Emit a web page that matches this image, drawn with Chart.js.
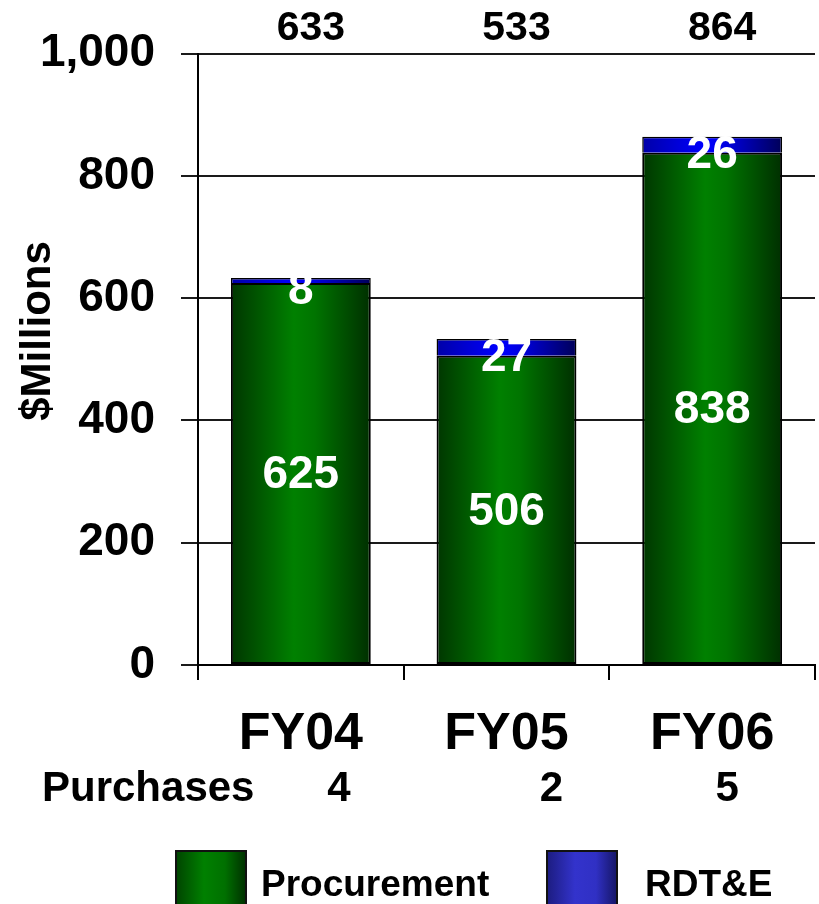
<!DOCTYPE html>
<html>
<head>
<meta charset="utf-8">
<title>Procurement and RDT&amp;E</title>
<script src="https://cdn.jsdelivr.net/npm/chart.js@4.4.1/dist/chart.umd.min.js"></script>
<style>
  html, body { margin: 0; padding: 0; background: #fff; overflow: hidden; }
  canvas { display: block; }
</style>
</head>
<body>
<canvas id="chart" width="819" height="904"></canvas>
<script>
// Funding by fiscal year, $ millions
const categories = ['FY04', 'FY05', 'FY06'];
const procurement = [625, 506, 838];
const rdte = [8, 27, 26];
const totals = [633, 533, 864];
const purchases = [4, 2, 5];
const yTickValues = [0, 200, 400, 600, 800, 1000];

const FONT = '"Liberation Sans", Arial, Helvetica, sans-serif';
const BAR_PCT = 0.68;

// horizontal "cylinder" shading used on every bar segment
const greenStops = [[0, '#003600'], [0.45, '#008000'], [0.6, '#007400'], [1, '#002f00']];
const blueStops = [[0, '#0000a8'], [0.45, '#0000ff'], [0.6, '#0000e0'], [1, '#000058']];

function fillStops(grad, stops) {
  stops.forEach(s => grad.addColorStop(s[0], s[1]));
  return grad;
}

function barGradient(stops, flat) {
  return function (ctx) {
    const chart = ctx.chart;
    const xs = chart.scales.x;
    if (!chart.chartArea || !xs || ctx.dataIndex === undefined) return flat;
    const cx = xs.getPixelForValue(ctx.dataIndex);
    const half = (xs.width / categories.length) * BAR_PCT / 2;
    const g = chart.ctx.createLinearGradient(cx - half, 0, cx + half, 0);
    return fillStops(g, stops);
  };
}

// extra text: totals, segment values, purchases row, axis title, legend
const annotations = {
  id: 'annotations',
  afterDatasetsDraw(chart) {
    const c = chart.ctx;
    const green = chart.getDatasetMeta(0).data;
    const blue = chart.getDatasetMeta(1).data;
    c.save();
    c.textAlign = 'center';
    c.textBaseline = 'middle';
    c.fillStyle = '#fff';
    c.font = 'bold 46px ' + FONT;
    green.forEach((bar, i) => {
      c.fillText(String(procurement[i]), bar.x, (bar.y + bar.base) / 2 + 2);
    });
    blue.forEach((bar, i) => {
      c.fillText(String(rdte[i]), bar.x, (bar.y + bar.base) / 2 + 11);
    });
    c.restore();
  },
  afterDraw(chart) {
    const c = chart.ctx;
    const xs = chart.scales.x;
    c.save();
    c.fillStyle = '#000';
    c.textBaseline = 'middle';

    // stack totals above the plot
    c.textAlign = 'center';
    c.font = 'bold 41px ' + FONT;
    totals.forEach((t, i) => {
      c.fillText(String(t), xs.getPixelForValue(i) + 10, 29);
    });

    // purchases row under the category labels
    const purchaseShift = [38, 45, 15];
    c.font = 'bold 42px ' + FONT;
    c.textAlign = 'left';
    c.fillText('Purchases', 42, 789);
    c.textAlign = 'center';
    purchases.forEach((p, i) => {
      c.fillText(String(p), xs.getPixelForValue(i) + purchaseShift[i], 789);
    });

    // rotated axis title
    c.save();
    c.translate(38, 331);
    c.rotate(-Math.PI / 2);
    c.font = 'bold 42px ' + FONT;
    c.fillText('$Millions', 0, 0);
    c.restore();

    // legend
    const items = [
      { label: chart.data.datasets[0].label, stops: [[0, '#004400'], [0.4, '#008000'], [0.7, '#007000'], [1, '#003000']], x: 176, tx: 261 },
      { label: chart.data.datasets[1].label, stops: [[0, '#1c1c80'], [0.4, '#3333cc'], [0.7, '#3030c4'], [1, '#151565']], x: 547, tx: 645 }
    ];
    items.forEach(it => {
      const g = fillStops(c.createLinearGradient(it.x, 0, it.x + 70, 0), it.stops);
      c.fillStyle = g;
      c.fillRect(it.x, 851, 70, 60);
      c.strokeStyle = '#111';
      c.lineWidth = 2;
      c.strokeRect(it.x, 851, 70, 60);
      c.fillStyle = '#000';
      c.textAlign = 'left';
      c.font = 'bold 37px ' + FONT;
      c.fillText(it.label, it.tx, 886);
    });
    c.restore();
  }
};

const chart = new Chart(document.getElementById('chart'), {
  type: 'bar',
  data: {
    labels: categories,
    datasets: [
      {
        label: 'Procurement',
        data: procurement,
        backgroundColor: barGradient(greenStops, '#007000'),
        borderColor: '#000',
        borderWidth: 2,
        borderSkipped: false,
        barPercentage: BAR_PCT,
        categoryPercentage: 1
      },
      {
        label: 'RDT&E',
        data: rdte,
        backgroundColor: barGradient(blueStops, '#0000d0'),
        borderColor: '#000',
        borderWidth: { top: 1.5, left: 1.5, right: 1.5, bottom: 0 },
        borderSkipped: false,
        barPercentage: BAR_PCT,
        categoryPercentage: 1
      }
    ]
  },
  options: {
    responsive: false,
    animation: false,
    layout: { padding: { top: 52, right: 4, bottom: 0, left: 0 } },
    plugins: {
      legend: { display: false },
      tooltip: { enabled: false }
    },
    scales: {
      x: {
        stacked: true,
        offset: true,
        afterFit(scale) { scale.height = 239; },
        grid: {
          display: true,
          offset: true,
          drawOnChartArea: false,
          drawTicks: true,
          tickLength: 15,
          color: '#000',
          lineWidth: 2
        },
        border: { display: true, color: '#000', width: 2 },
        ticks: {
          color: '#000',
          font: { family: FONT, size: 52, weight: 'bold' },
          padding: 23,
          maxRotation: 0,
          autoSkip: false
        }
      },
      y: {
        stacked: true,
        min: 0,
        max: 1000,
        afterFit(scale) { scale.width = 198; },
        afterBuildTicks(scale) { scale.ticks = yTickValues.map(v => ({ value: v })); },
        grid: {
          color: '#1a1a1a',
          lineWidth: 2,
          tickLength: 17,
          drawTicks: true
        },
        border: { display: true, color: '#000', width: 2 },
        ticks: {
          color: '#000',
          font: { family: FONT, size: 46, weight: 'bold' },
          padding: 26,
          callback: v => v.toLocaleString('en-US')
        }
      }
    }
  },
  plugins: [annotations]
});
</script>
</body>
</html>
